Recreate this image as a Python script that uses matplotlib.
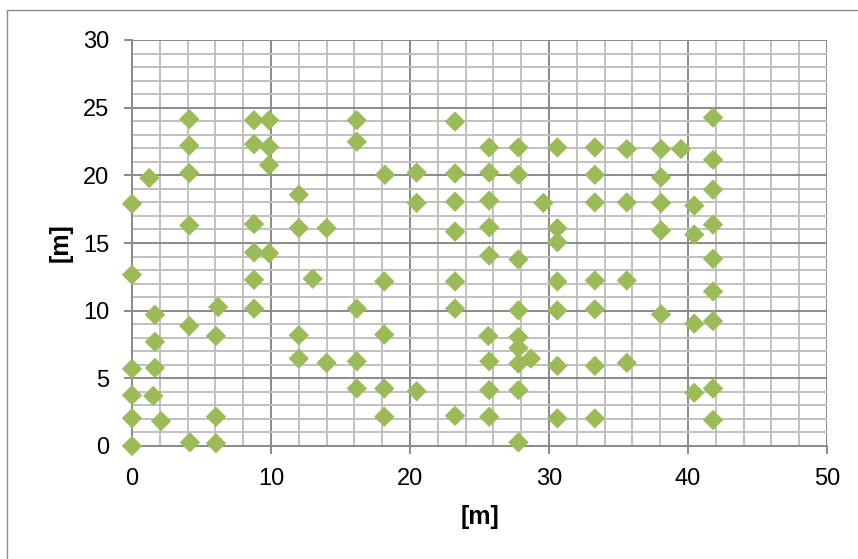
import matplotlib
matplotlib.use("Agg")
import matplotlib.pyplot as plt
from matplotlib.ticker import MultipleLocator
from matplotlib.patches import Rectangle

plt.rcParams['font.family'] = ['Liberation Sans', 'DejaVu Sans']

# Data (x [m], y [m])
x_vals = [
    0, 0, 0, 0, 0, 0,
    1.24, 1.65, 1.65, 1.65, 1.53, 2.09,
    4.12, 4.17, 4.12, 4.12, 4.12, 4.12,
    6.2, 6.04, 6.04, 6.04,
    8.78, 9.86, 8.78, 9.86, 9.86, 8.78, 8.78, 9.86, 8.78, 8.78,
    12.0, 12.0, 14.0, 13.0, 12.0, 12.0, 14.0,
    16.17, 16.17, 16.17, 16.17, 16.17,
    18.2, 18.15, 18.15, 18.15, 18.15,
    20.48, 20.48, 20.48,
    23.24, 23.24, 23.24, 23.24, 23.24, 23.24, 23.24,
    25.7, 25.7, 25.7, 25.7, 25.7, 25.63, 25.7, 25.7, 25.7,
    27.8, 27.8, 27.8, 27.8, 27.8, 27.8, 27.8, 27.8, 27.8, 28.7,
    29.6,
    30.6, 30.6, 30.6, 30.6, 30.6, 30.6, 30.6,
    33.3, 33.3, 33.3, 33.3, 33.3, 33.3, 33.3,
    35.6, 35.6, 35.6, 35.6,
    38.06, 38.06, 38.06, 38.06, 38.06,
    39.5,
    40.45, 40.45, 40.45, 40.45,
    41.8, 41.8, 41.8, 41.8, 41.8, 41.8, 41.8, 41.8, 41.8,
]
y_vals = [
    0.0, 2.05, 3.75, 5.7, 12.65, 17.9,
    19.8, 9.7, 7.7, 5.77, 3.7, 1.84,
    8.87, 0.27, 24.15, 22.2, 20.17, 16.3,
    10.27, 8.13, 2.16, 0.2,
    24.07, 24.07, 22.3, 22.1, 20.76, 16.4, 14.3, 14.25, 12.28, 10.15,
    18.57, 16.1, 16.1, 12.36, 8.18, 6.46, 6.14,
    24.07, 22.48, 10.15, 6.26, 4.25,
    20.04, 12.16, 8.23, 4.25, 2.16,
    20.2, 17.96, 4.05,
    23.97, 20.14, 18.05, 15.84, 12.16, 10.15, 2.23,
    22.06, 20.2, 18.13, 16.16, 14.07, 8.13, 6.26, 4.13, 2.16,
    22.06, 20.04, 13.78, 10.02, 8.05, 7.24, 6.09, 4.13, 0.27, 6.46,
    17.96,
    22.06, 16.09, 15.06, 12.16, 10.02, 5.92, 2.04,
    22.06, 20.04, 18.0, 12.23, 10.1, 5.92, 2.04,
    21.94, 18.0, 12.23, 6.14,
    21.94, 19.85, 17.96, 15.92, 9.73,
    21.94,
    17.76, 15.62, 9.04, 3.93,
    24.27, 21.15, 18.94, 16.36, 13.83, 11.42, 9.23, 4.25, 1.92,
]

x_ticks = [0, 10, 20, 30, 40, 50]
y_ticks = [0, 5, 10, 15, 20, 25, 30]
x_label = '[m]'
y_label = '[m]'

fig = plt.figure(figsize=(8.58, 5.59), dpi=100)
fig.patch.set_facecolor('white')
# outer chart frame
fig.add_artist(Rectangle((7 / 858, -0.1), 1.2, 1 - 10 / 559 + 0.1,
                         transform=fig.transFigure, fill=False,
                         edgecolor='#8c8c8c', linewidth=1.0, clip_on=False))

ax = fig.add_axes([132 / 858, 1 - 446 / 559, (827 - 132) / 858, (446 - 40) / 559])
ax.set_xlim(0, 50)
ax.set_ylim(0, 30)
ax.set_xticks(x_ticks)
ax.set_yticks(y_ticks)
ax.xaxis.set_minor_locator(MultipleLocator(2))
ax.yaxis.set_minor_locator(MultipleLocator(1))

ax.grid(which='major', color='#8a8a8a', linewidth=1.4)
ax.grid(which='minor', color='#c0c0c0', linewidth=1.4)
ax.set_axisbelow(True)

for s in ['top', 'right']:
    ax.spines[s].set_visible(False)
for s in ['left', 'bottom']:
    ax.spines[s].set_color('#8a8a8a')
    ax.spines[s].set_linewidth(1.4)

ax.tick_params(which='major', length=5.5, width=1.4, color='#8a8a8a',
               labelsize=17, labelcolor='black')
ax.tick_params(axis='x', which='major', pad=10)
ax.tick_params(axis='y', which='major', pad=11)
ax.tick_params(which='minor', length=0)

ax.scatter(x_vals, y_vals, marker='D', s=108, color='#9BBB59', edgecolors='none',
           zorder=3, clip_on=False)

ax.set_xlabel(x_label, fontsize=18, fontweight='bold')
ax.set_ylabel(y_label, fontsize=18, fontweight='bold')
ax.xaxis.set_label_coords(0.5, (446 - 505) / 406)
ax.yaxis.set_label_coords((73 - 132) / 695, 0.5)

fig.savefig('out.png', dpi=100)
